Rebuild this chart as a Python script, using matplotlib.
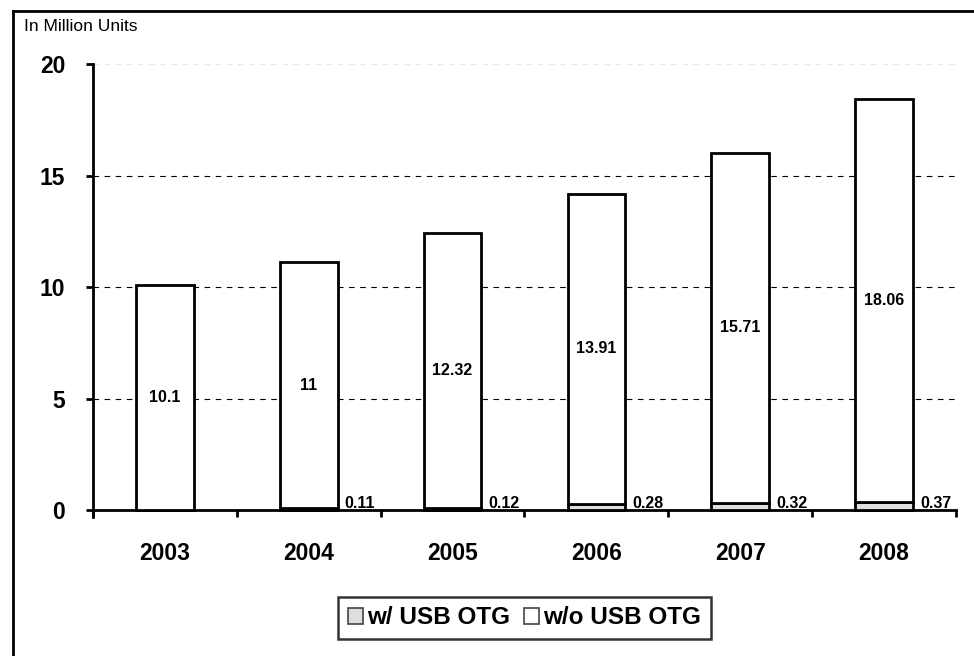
import matplotlib.pyplot as plt
from matplotlib.lines import Line2D
from matplotlib.patches import Patch

plt.rcParams['font.family'] = ['Liberation Sans', 'DejaVu Sans']

# Data (million units)
years = ['2003', '2004', '2005', '2006', '2007', '2008']
withOTG = [0.0, 0.11, 0.12, 0.28, 0.32, 0.37]
withoutOTG = [10.1, 11, 12.32, 13.91, 15.71, 18.06]
withLabels = ['', '0.11', '0.12', '0.28', '0.32', '0.37']
withoutLabels = ['10.1', '11', '12.32', '13.91', '15.71', '18.06']
yTicks = [0, 5, 10, 15, 20]

fig = plt.figure(figsize=(9.74, 6.56), dpi=100)
ax = fig.add_axes([0.0955, 0.2119, 0.886, 0.6905])

x = list(range(len(years)))
barWidth = 0.4
ax.bar(x, withOTG, barWidth, color='#dedede', edgecolor='black',
       linewidth=2, zorder=3)
ax.bar(x, withoutOTG, barWidth, bottom=withOTG, color='white',
       edgecolor='black', linewidth=2, zorder=3)

for i in x:
    mid = withOTG[i] + withoutOTG[i] / 2
    ax.text(i, mid, withoutLabels[i], ha='center', va='center',
            fontsize=11.5, fontweight='bold', zorder=4)
    if withLabels[i]:
        ax.text(i + barWidth / 2 + 0.05, -0.05, withLabels[i], ha='left',
                va='bottom', fontsize=11.5, fontweight='bold', zorder=4)

# gridlines
for t in yTicks[1:-1]:
    ax.axhline(t, color='black', linestyle=(0, (5, 5)), linewidth=0.8,
               zorder=1)
ax.axhline(20, color='#e8e8e8', linestyle=(0, (5, 5)), linewidth=0.8,
           zorder=1)

ax.set_xlim(-0.5, 5.5)
ax.set_ylim(-0.3, 20)
ax.spines['top'].set_visible(False)
ax.spines['right'].set_visible(False)
ax.spines['bottom'].set_position(('data', 0))
ax.spines['left'].set_linewidth(2)
ax.spines['bottom'].set_linewidth(2)

ax.set_yticks(yTicks)
ax.set_yticklabels([str(t) for t in yTicks], fontsize=16.5, fontweight='bold')
ax.tick_params(axis='y', direction='out', length=5, width=2, pad=15)

ax.set_xticks([i - 0.5 for i in range(len(years) + 1)])
ax.set_xticklabels([])
ax.set_xticks(x, minor=True)
ax.set_xticklabels(years, minor=True, fontsize=16.5, fontweight='bold')
ax.tick_params(axis='x', which='major', direction='out', length=5, width=2)
ax.tick_params(axis='x', which='minor', length=0, pad=23)

fig.text(0.025, 0.960, 'In Million Units', fontsize=12.5, ha='left',
         va='center')

handles = [Patch(facecolor='#dedede', edgecolor='#444444', linewidth=1.2),
           Patch(facecolor='white', edgecolor='#444444', linewidth=1.2)]
leg = fig.legend(handles, ['w/ USB OTG', 'w/o USB OTG'], loc='center',
                 bbox_to_anchor=(0.5385, 0.058), ncol=2, frameon=True,
                 fancybox=False, prop={'weight': 'bold', 'size': 17.5},
                 handlelength=0.62, handleheight=0.62, handletextpad=0.15,
                 columnspacing=0.6, borderpad=0.4, edgecolor='black')
leg.get_frame().set_linewidth(1.8)

# outer frame (top and left only)
fig.add_artist(Line2D([0.013, 1.0], [0.983, 0.983], color='black',
                      linewidth=2, transform=fig.transFigure))
fig.add_artist(Line2D([0.013, 0.013], [0.0, 0.983], color='black',
                      linewidth=2, transform=fig.transFigure))

fig.savefig('out.png', dpi=100)
